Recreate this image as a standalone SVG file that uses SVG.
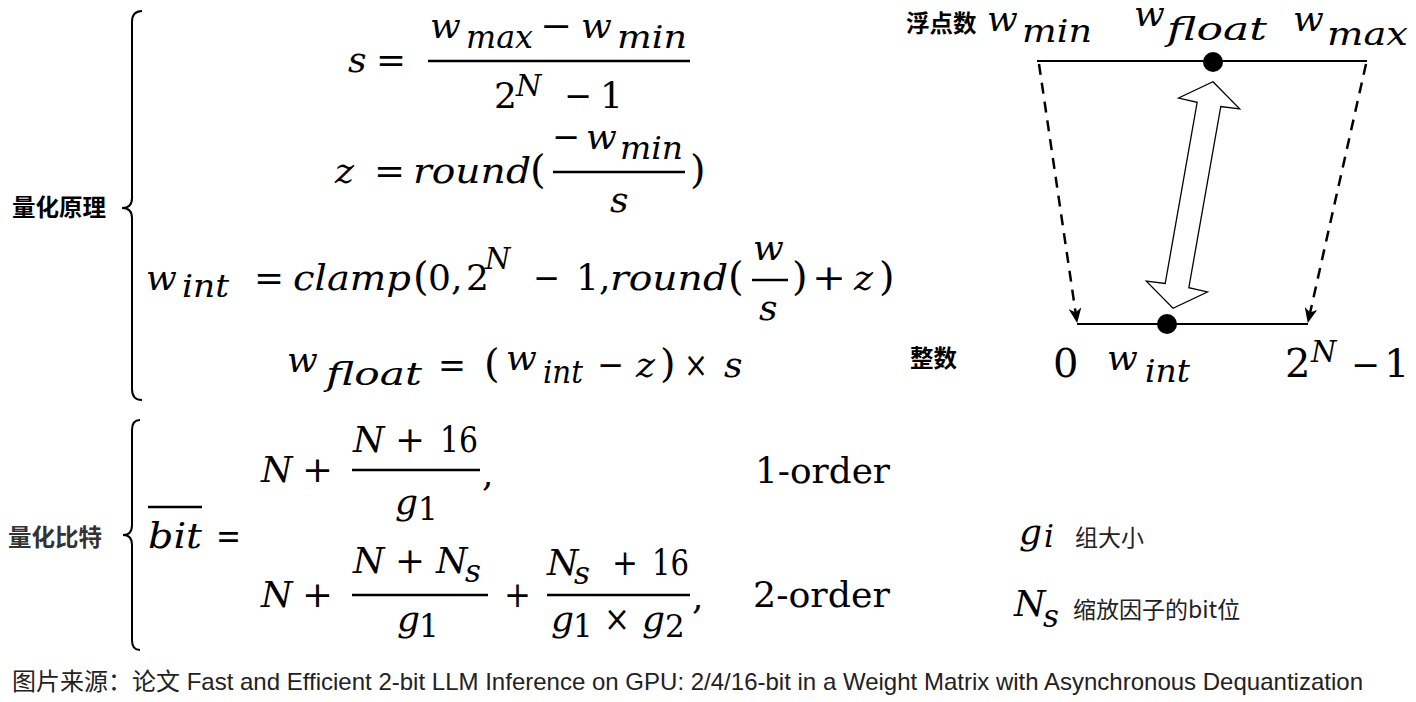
<svg xmlns="http://www.w3.org/2000/svg" width="1416" height="702" viewBox="0 0 1416 702">
<defs>
<style>
.mi{font-family:"DejaVu Serif","Liberation Serif",serif;font-style:italic;font-size:36px;fill:#000}
.mu{font-family:"DejaVu Serif","Liberation Serif",serif;font-size:36px;fill:#000}
.sb{font-size:31px}
.sp{font-size:29px}
.big{font-size:40px}
.cjk{font-family:"Noto Sans CJK SC","Noto Sans",sans-serif;font-size:23.5px;font-weight:700;fill:#000}
.cjkr{font-family:"Noto Sans CJK SC","Noto Sans",sans-serif;font-size:23px;fill:#222}
.cap{font-family:"Liberation Sans","Noto Sans CJK SC",sans-serif;font-size:24px;fill:#222}
.bar{stroke:#000;stroke-width:2.5;fill:none}
.brace{stroke:#000;stroke-width:2;fill:none}
.dash{stroke:#000;stroke-width:2.5;stroke-dasharray:11 8;fill:none}
.axis{stroke:#000;stroke-width:2;fill:none}
</style>
<marker id="ah" viewBox="0 0 14 12" refX="13" refY="6" markerWidth="15" markerHeight="13" markerUnits="userSpaceOnUse" orient="auto">
<path d="M0,0 L14,6 L0,12 L4,6 z" fill="#000"/>
</marker>
</defs>
<rect width="1416" height="702" fill="#fff"/>

<g id="label-principle">
<text class="cjk" x="12" y="216">量化原理</text>
<path class="brace" d="M142,11 Q132,11 132,22 L132,198 Q132,208 122,208 Q132,208 132,218 L132,389 Q132,400 142,400"/>
</g>

<g id="eq-s">
<text class="mi" x="348" y="72">s</text>
<text class="mu" x="376" y="72" textLength="30" lengthAdjust="spacingAndGlyphs">=</text>
<text class="mi" x="430" y="38">w</text>
<text class="mi sb" x="466" y="48" textLength="67" lengthAdjust="spacingAndGlyphs">max</text>
<text class="mu" x="540" y="38" textLength="32" lengthAdjust="spacingAndGlyphs">−</text>
<text class="mi" x="581" y="38">w</text>
<text class="mi sb" x="617" y="48" textLength="70" lengthAdjust="spacingAndGlyphs">min</text>
<line class="bar" x1="428" y1="61" x2="690" y2="61"/>
<text class="mu" x="494" y="108">2</text>
<text class="mi sp" x="516" y="96">N</text>
<text class="mu" x="564" y="108" textLength="28" lengthAdjust="spacingAndGlyphs">−</text>
<text class="mu" x="600" y="108">1</text>
</g>

<g id="eq-z">
<text class="mi" x="335" y="183">z</text>
<text class="mu" x="374" y="183" textLength="31" lengthAdjust="spacingAndGlyphs">=</text>
<text class="mi" x="413" y="183" textLength="118" lengthAdjust="spacingAndGlyphs">round</text>
<text class="mu big" x="530" y="183">(</text>
<text class="mu" x="552" y="149" textLength="28" lengthAdjust="spacingAndGlyphs">−</text>
<text class="mi" x="586" y="149">w</text>
<text class="mi sb" x="620" y="159" textLength="63" lengthAdjust="spacingAndGlyphs">min</text>
<line class="bar" x1="553" y1="172" x2="685" y2="172"/>
<text class="mi" x="610" y="212">s</text>
<text class="mu big" x="690" y="183">)</text>
</g>

<g id="eq-wint">
<text class="mi" x="146" y="290">w</text>
<text class="mi sb" x="182" y="297" textLength="47" lengthAdjust="spacingAndGlyphs">int</text>
<text class="mu" x="254" y="290" textLength="30" lengthAdjust="spacingAndGlyphs">=</text>
<text class="mi" x="293" y="290" textLength="118" lengthAdjust="spacingAndGlyphs">clamp</text>
<text class="mu big" x="413" y="290">(</text>
<text class="mu" x="428" y="290">0,</text>
<text class="mu" x="466" y="290">2</text>
<text class="mi sp" x="485" y="269">N</text>
<text class="mu" x="533" y="290" textLength="27" lengthAdjust="spacingAndGlyphs">−</text>
<text class="mu" x="576" y="290">1,</text>
<text class="mi" x="610" y="290" textLength="118" lengthAdjust="spacingAndGlyphs">round</text>
<text class="mu big" x="728" y="290">(</text>
<text class="mi" x="753" y="260">w</text>
<line class="bar" x1="752" y1="280" x2="788" y2="280"/>
<text class="mi" x="759" y="320">s</text>
<text class="mu big" x="792" y="290">)</text>
<text class="mu" x="812" y="290" textLength="34" lengthAdjust="spacingAndGlyphs">+</text>
<text class="mi" x="854" y="290">z</text>
<text class="mu big" x="879" y="290">)</text>
</g>

<g id="eq-wfloat">
<text class="mi" x="287" y="372">w</text>
<text class="mi sb" x="326" y="385" textLength="96" lengthAdjust="spacingAndGlyphs">float</text>
<text class="mu" x="438" y="377" textLength="28" lengthAdjust="spacingAndGlyphs">=</text>
<text class="mu big" x="484" y="377">(</text>
<text class="mi" x="506" y="370">w</text>
<text class="mi sb" x="543" y="383" textLength="40" lengthAdjust="spacingAndGlyphs">int</text>
<text class="mu" x="597" y="377" textLength="27" lengthAdjust="spacingAndGlyphs">−</text>
<text class="mi" x="636" y="377">z</text>
<text class="mu big" x="660" y="377">)</text>
<text class="mu" x="684" y="377" textLength="24" lengthAdjust="spacingAndGlyphs">×</text>
<text class="mi" x="724" y="377">s</text>
</g>

<g id="label-bits">
<text class="cjk" x="8" y="546" style="fill:#333">量化比特</text>
<path class="brace" d="M140,420 Q132,420 132,430 L132,525 Q132,535 123,535 Q132,535 132,545 L132,640 Q132,650 140,650"/>
</g>

<g id="eq-bit">
<line class="bar" x1="148" y1="507" x2="202" y2="507"/>
<text class="mi" x="148" y="548" textLength="54" lengthAdjust="spacingAndGlyphs">bit</text>
<text class="mu" x="216" y="548" textLength="25" lengthAdjust="spacingAndGlyphs">=</text>
<text class="mi" x="261" y="482">N</text>
<text class="mu" x="302" y="482" textLength="31" lengthAdjust="spacingAndGlyphs">+</text>
<text class="mi" x="353" y="452">N</text>
<text class="mu" x="395" y="452" textLength="30" lengthAdjust="spacingAndGlyphs">+</text>
<text class="mu" x="440" y="452" textLength="38" lengthAdjust="spacingAndGlyphs">16</text>
<line class="bar" x1="352" y1="470" x2="480" y2="470"/>
<text class="mi" x="395" y="514">g</text>
<text class="mu sb" x="418" y="520">1</text>
<text class="mu" x="482" y="486">,</text>
<text class="mu" x="755" y="483" textLength="135" lengthAdjust="spacingAndGlyphs">1-order</text>

<text class="mi" x="261" y="607">N</text>
<text class="mu" x="302" y="607" textLength="31" lengthAdjust="spacingAndGlyphs">+</text>
<text class="mi" x="353" y="573">N</text>
<text class="mu" x="395" y="573" textLength="30" lengthAdjust="spacingAndGlyphs">+</text>
<text class="mi" x="436" y="573">N</text>
<text class="mi sb" x="465" y="582">s</text>
<line class="bar" x1="352" y1="595" x2="488" y2="595"/>
<text class="mi" x="397" y="631">g</text>
<text class="mu sb" x="419" y="637">1</text>
<text class="mu" x="504" y="607" textLength="27" lengthAdjust="spacingAndGlyphs">+</text>
<text class="mi" x="547" y="575">N</text>
<text class="mi sb" x="574" y="584">s</text>
<text class="mu" x="612" y="575" textLength="26" lengthAdjust="spacingAndGlyphs">+</text>
<text class="mu" x="652" y="575" textLength="37" lengthAdjust="spacingAndGlyphs">16</text>
<line class="bar" x1="547" y1="595" x2="690" y2="595"/>
<text class="mi" x="551" y="631">g</text>
<text class="mu sb" x="573" y="637">1</text>
<text class="mu" x="604" y="631" textLength="26" lengthAdjust="spacingAndGlyphs">×</text>
<text class="mi" x="642" y="631">g</text>
<text class="mu sb" x="665" y="637">2</text>
<text class="mu" x="692" y="609">,</text>
<text class="mu" x="753" y="607" textLength="137" lengthAdjust="spacingAndGlyphs">2-order</text>
</g>

<g id="legend">
<text class="mi" x="1019" y="544">g</text>
<text class="mi sb" x="1044" y="547">i</text>
<text class="cjkr" x="1075" y="546">组大小</text>
<text class="mi" x="1014" y="616">N</text>
<text class="mi sb" x="1043" y="627">s</text>
<text class="cjkr" x="1073" y="618">缩放因子的bit位</text>
</g>

<g id="float-axis">
<text class="cjk" x="906" y="32">浮点数</text>
<text class="mi" x="987" y="31">w</text>
<text class="mi sb" x="1022" y="42" textLength="70" lengthAdjust="spacingAndGlyphs">min</text>
<text class="mi" x="1134" y="26">w</text>
<text class="mi sb" x="1167" y="40" textLength="100" lengthAdjust="spacingAndGlyphs">float</text>
<text class="mi" x="1293" y="31">w</text>
<text class="mi sb" x="1327" y="45" textLength="81" lengthAdjust="spacingAndGlyphs">max</text>
<line class="axis" x1="1037" y1="61" x2="1367" y2="61"/>
<circle cx="1213" cy="62" r="10" fill="#000"/>
</g>

<g id="int-axis">
<text class="cjk" x="910" y="367">整数</text>
<text class="mu big" x="1053" y="377">0</text>
<text class="mi" x="1107" y="370">w</text>
<text class="mi sb" x="1145" y="382" textLength="45" lengthAdjust="spacingAndGlyphs">int</text>
<text class="mu big" x="1285" y="377">2</text>
<text class="mi sp" x="1311" y="362">N</text>
<text class="mu" x="1351" y="377" textLength="29" lengthAdjust="spacingAndGlyphs">−</text>
<text class="mu big" x="1384" y="377">1</text>
<line class="axis" x1="1077" y1="324" x2="1308" y2="324"/>
<circle cx="1167" cy="324" r="10" fill="#000"/>
</g>

<g id="connectors">
<line class="dash" x1="1039" y1="64" x2="1077" y2="322" marker-end="url(#ah)"/>
<line class="dash" x1="1366" y1="64" x2="1308" y2="322" marker-end="url(#ah)"/>
<polygon transform="translate(1193,195) rotate(10)" points="0,-115 31,-93 12,-92 12,92 31,93 0,115 -31,93 -12,92 -12,-92 -31,-93" fill="#fff" stroke="#000" stroke-width="1.3" stroke-linejoin="miter"/>
</g>

<g id="caption">
<text class="cap" x="12" y="690" textLength="1351" lengthAdjust="spacing">图片来源：论文 Fast and Efficient 2-bit LLM Inference on GPU: 2/4/16-bit in a Weight Matrix with Asynchronous Dequantization</text>
</g>
</svg>
